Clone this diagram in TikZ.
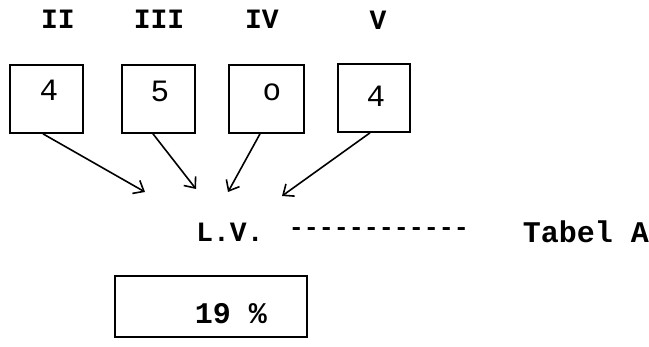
\documentclass[tikz,border=0pt]{standalone}
\usepackage{fontspec}
\setmonofont{Liberation Mono}
\usetikzlibrary{arrows.meta}
\begin{document}
\begin{tikzpicture}[x=1pt,y=-1pt,
  tw/.style={font=\ttfamily\fontsize{28}{30}\selectfont\bfseries, inner sep=0pt},
  digit/.style={font=\ttfamily\fontsize{31}{33}\selectfont, inner sep=0pt},
  box/.style={draw, line width=1.7pt, minimum height=68pt, inner sep=0pt},
  arr/.style={line width=1.6pt, -{Straight Barb[length=9pt,width=15pt,line width=1.6pt]}}]
\useasboundingbox (0,0) rectangle (649,347);
% roman labels
\node[tw] (l2) at (58,19) {II};
\node[tw] (l3) at (159,19) {III};
\node[tw] (l4) at (262,19) {IV};
\node[tw] (l5) at (378,20) {V};
% boxes
\node[box, minimum width=73pt] (b1) at (46.5,99) {};
\node[box, minimum width=73pt] (b2) at (158.5,99) {};
\node[box, minimum width=75pt] (b3) at (266.5,99) {};
\node[box, minimum width=72pt] (b4) at (374,98) {};
\node[digit] (d1) at (49,90) {4};
\node[digit] (d2) at (160,91) {5};
\node[digit] (d3) at (272,92) {o};
\node[digit] (d4) at (376,96) {4};
% arrow tips
\coordinate (e1) at (145,192);
\coordinate (e2) at (196,189);
\coordinate (e3) at (228,192);
\coordinate (e4) at (282,196);
\draw[arr] ([xshift=-3.5pt]b1.south) -- (e1);
\draw[arr] ([xshift=-5.5pt]b2.south) -- (e2);
\draw[arr] ([xshift=-6.5pt]b3.south) -- (e3);
\draw[arr] ([xshift=-4pt]b4.south) -- (e4);
% middle line
\node[tw] (lv) at (230,232) {L.V.};
\node[tw, font=\ttfamily\fontsize{25}{28}\selectfont\bfseries] (dash) at (379,232) {------------};
\node[tw, font=\ttfamily\fontsize{30}{32}\selectfont\bfseries] (tab) at (586,232) {Tabel A};
% result box
\node[box, minimum width=192pt, minimum height=61pt] (b5) at (211,306.5) {};
\node[tw, font=\ttfamily\fontsize{30}{32}\selectfont\bfseries] (res) at (231,314) {19 \%};
\end{tikzpicture}
\end{document}
